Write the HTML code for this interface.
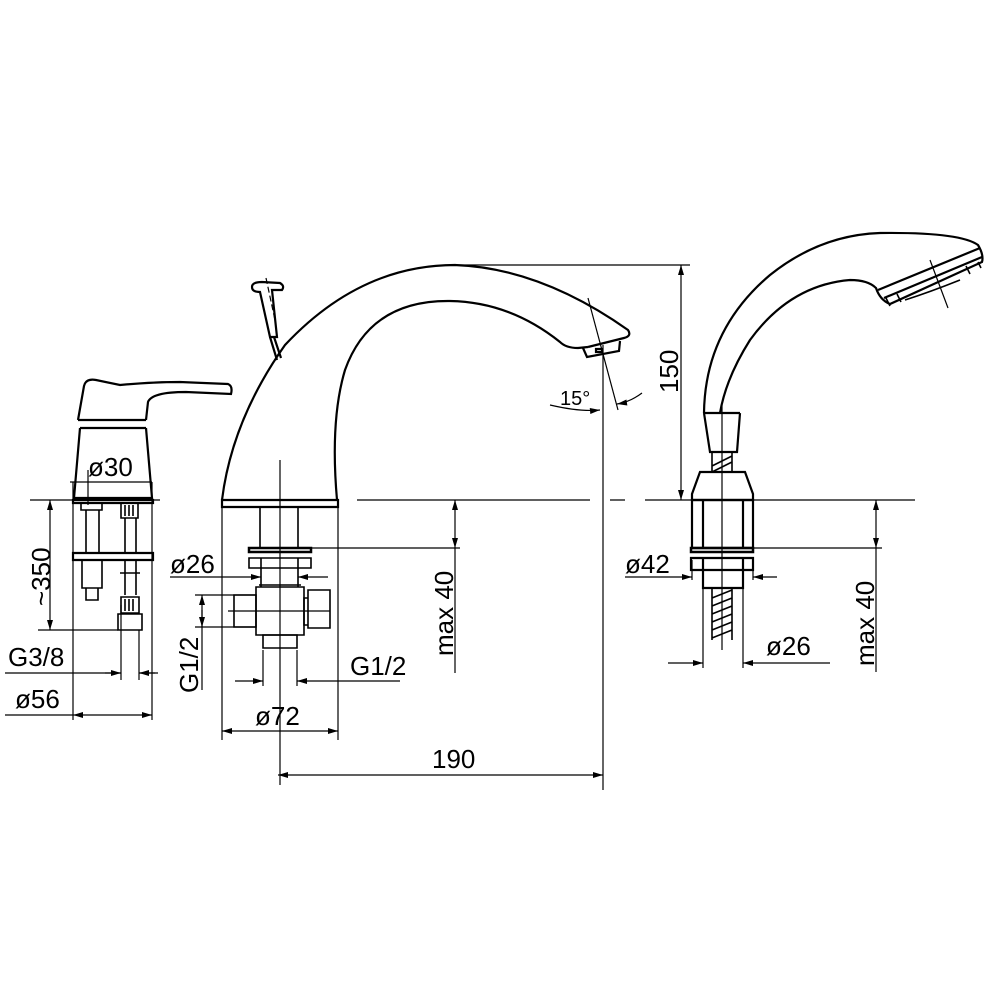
<!DOCTYPE html>
<html><head><meta charset="utf-8"><style>
html,body{margin:0;padding:0;background:#fff}
svg{display:block}
text{font-family:"Liberation Sans","DejaVu Sans",sans-serif;font-size:26px;fill:#000}
</style></head><body>
<svg width="1000" height="1000" viewBox="0 0 1000 1000" xmlns="http://www.w3.org/2000/svg">
<defs>
<marker id="a" viewBox="0 0 10 6" refX="10" refY="3" markerWidth="11" markerHeight="6" orient="auto-start-reverse" markerUnits="userSpaceOnUse"><path d="M0,0 L10,3 L0,6 z" fill="#000"/></marker>
</defs>
<g fill="none" stroke="#000" stroke-width="1.2">
<path d="M30,500H160 M357,500H590 M610,500H625 M645,500H915" />

<!-- LEFT MIXER -->
<g stroke-width="2.2">
<path d="M78,420 L84,386 Q86,378 96,380 L120,385 Q150,382 180,382 L228,384 Q233,386 231,394 L186,392 Q152,392 148,402 L146,420"/>
<path d="M78,420 L146,420 M80,428 L146,428"/>
<path d="M80,428 L74,498 L152,498 L146,428"/>
<path d="M73,500H153V503H73Z M73,553H153V560H73Z"/>
</g>
<g stroke-width="1.6">
<path d="M81,503H102V510H81Z M86,510V553 M99,510V553"/>
<path d="M82,560H102V588H82Z M86,588H98V600H86Z"/>
<path d="M121,503H138V518H121Z M125,518V553 M136,518V553 M125,505V516 M129,505V516 M133,505V516"/>
<path d="M125,560V595 M136,560V595 M120,573H140"/>
<path d="M121,597H139V613H121Z M125,599V611 M129,599V611 M133,599V611"/>
<path d="M118,614H142V630H118Z"/>
</g>
<path d="M73,482V720 M152,482V720"/>
<path d="M70,482H152"/>
<path d="M50,500V630" marker-start="url(#a)" marker-end="url(#a)"/>
<path d="M38,630H118"/>
<path d="M5,673H121 M139,673H158" />
<path d="M121,673H105" marker-start="url(#a)"/>
<path d="M139,673H155" marker-start="url(#a)"/>
<path d="M121,605V680 M139,630V680 M88,470V505"/>
<path d="M73,715H152" marker-start="url(#a)" marker-end="url(#a)"/>
<path d="M5,715H73"/>

<!-- SPOUT -->
<g stroke-width="2.2">
<path d="M222,500 Q232,420 285,345 Q360,265 455,265 Q540,268 628,330 Q632,336 624,338 L588,347"/>
<path d="M337,500 Q330,420 345,370 Q370,300 450,301 Q510,302 560,342 Q566,348 578,348 L588,347"/>
<path d="M583,348 L587,357 L619,351 L620,341"/>
<path d="M596,349H602V352H596Z"/>
<path d="M222,500H338V507H222Z"/>
<path d="M252,287 Q252,282 262,282 L280,283 Q285,286 282,290 L272,290 L277,337 L270,337 L260,292 Q252,292 252,287Z"/>
<path d="M270,337 L277,360 M274,337 L281,358"/>
</g>
<path d="M266,278 L275,320" stroke-dasharray="6,3"/>
<g stroke-width="1.6">
<path d="M260,507V548 M298,507V548"/>
<path d="M249,548H311V552H249Z" stroke-width="2.5"/>
<path d="M249,558H311V568H249Z M261,558V568 M298,558V568"/>
<path d="M261,568V587 M298,568V587"/>
<path d="M256,587H304V635H256Z M259,585H301"/>
<path d="M234,595H256V627H234Z"/>
<path d="M304,598H308V625H304Z M308,590H330V628H308Z"/>
<path d="M263,635H297V648H263Z"/>
</g>
<path d="M280,460V785"/>
<path d="M228,611H330"/>
<path d="M222,507V740 M338,507V740"/>
<path d="M170,577H261" marker-end="url(#a)"/>
<path d="M328,577H298" marker-end="url(#a)"/>
<path d="M195,595H256 M195,627H256"/>
<path d="M202,690V595" marker-end="url(#a)"/>
<path d="M202,610V627" marker-end="url(#a)"/>
<path d="M263,650V686 M297,650V686"/>
<path d="M235,681H263" marker-end="url(#a)"/>
<path d="M400,681H297" marker-end="url(#a)"/>
<path d="M222,731H338" marker-start="url(#a)" marker-end="url(#a)"/>
<path d="M311,548H460"/>
<path d="M455,500V548" marker-start="url(#a)" marker-end="url(#a)"/>
<path d="M455,548V673"/>
<path d="M278,775H603" marker-start="url(#a)" marker-end="url(#a)"/>
<path d="M603,345V790"/>
<path d="M455,265H690"/>
<path d="M681,265V500" marker-start="url(#a)" marker-end="url(#a)"/>
<path d="M588,298 L618,410"/>
<path d="M550,405 Q580,412 600,410" marker-end="url(#a)"/>
<path d="M642,393 Q630,402 617,404" marker-end="url(#a)"/>

<!-- SHOWER -->
<g stroke-width="2.2">
<path d="M704,413 Q705,330 770,275 Q820,235 880,233 Q960,232 978,245 Q984,255 982,262 L890,304 Q880,300 876,288 Q868,280 850,280 Q790,285 750,340 Q726,378 720,413"/>
<path d="M878,290 L980,248 M884,298 L982,257"/>
<path d="M704,413H740 M704,413 L710,452 L737,452 L740,413"/>
<path d="M700,472H745 L753,494 V500 H692 V494Z"/>
<path d="M692,500H753V548H692Z M703,500V548 M743,500V548"/>
<path d="M691,548H753V552H691Z" stroke-width="2.5"/>
<path d="M691,558H753V570H691Z M703,558V570 M743,558V570"/>
<path d="M703,570V588H743V570"/>
</g>
<g stroke-width="1.6">
<path d="M712,452V472 M732,452V472 M712,466L732,456 M712,472L732,462"/>
<path d="M712,588V640 M732,588V640 M712,598L732,590 M712,606L732,598 M712,614L732,606 M712,622L732,614 M712,630L732,622 M712,638L732,630"/>
<path d="M886,298 L890,306 M897,294 L901,302 M966,266 L970,274 M978,262 L981,268 M905,300 Q930,292 960,280"/>
</g>
<path d="M930,260 L948,308"/>
<path d="M722,405V650"/>
<path d="M625,577H692" marker-end="url(#a)"/>
<path d="M777,577H753" marker-end="url(#a)"/>
<path d="M692,560V580 M753,560V580 M703,588V668 M743,588V668"/>
<path d="M668,663H703" marker-end="url(#a)"/>
<path d="M830,663H743" marker-end="url(#a)"/>
<path d="M753,548H882"/>
<path d="M876,500V548" marker-start="url(#a)" marker-end="url(#a)"/>
<path d="M876,548V672"/>
</g>

<text x="88" y="476">ø30</text>
<text transform="translate(50,606) rotate(-90)">~350</text>
<text x="8" y="666">G3/8</text>
<text x="15" y="708">ø56</text>
<text x="170" y="573">ø26</text>
<text transform="translate(198,693) rotate(-90)">G1/2</text>
<text x="350" y="675">G1/2</text>
<text x="255" y="725">ø72</text>
<text transform="translate(453,656) rotate(-90)">max 40</text>
<text x="432" y="768">190</text>
<text x="560" y="405" style="font-size:20px">15°</text>
<text transform="translate(678,393) rotate(-90)">150</text>
<text x="625" y="573">ø42</text>
<text x="766" y="655">ø26</text>
<text transform="translate(874,666) rotate(-90)">max 40</text>
</svg>
</body></html>
